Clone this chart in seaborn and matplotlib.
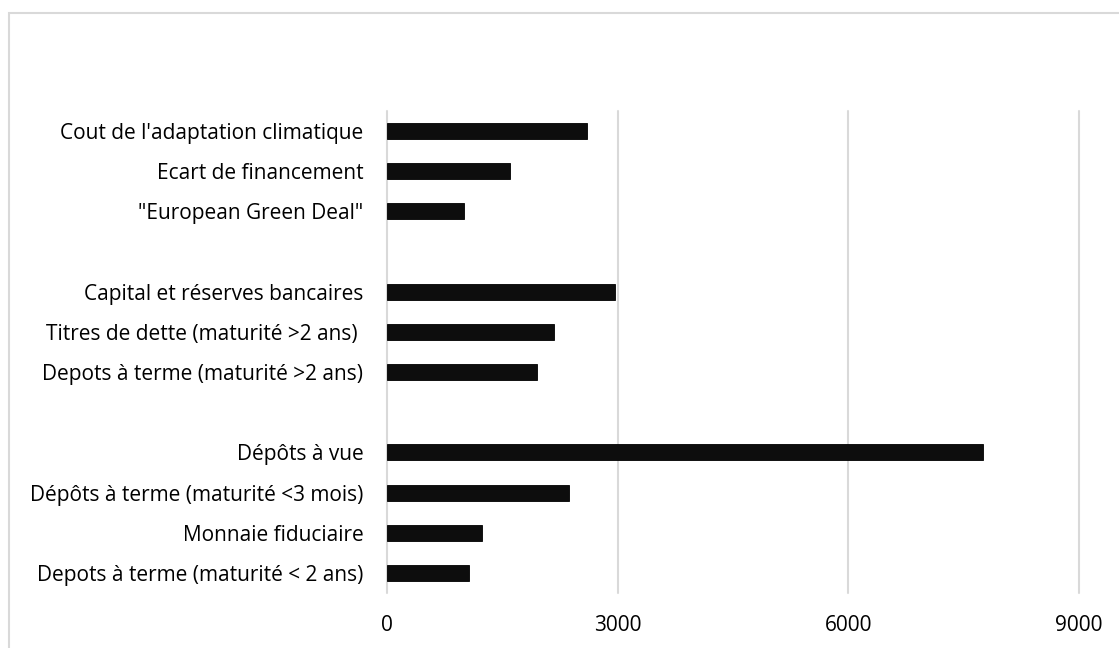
import matplotlib
matplotlib.use("Agg")
import matplotlib.pyplot as plt
from matplotlib.patches import Rectangle
import pandas as pd
import seaborn as sns

# Categories grouped in three blocks (top to bottom), separated by gaps
climat = ["Cout de l'adaptation climatique", "Ecart de financement", '"European Green Deal"']
climat_vals = [2600, 1600, 1000]

long_terme = ["Capital et réserves bancaires", "Titres de dette (maturité >2 ans) ",
              "Depots à terme (maturité >2 ans)"]
long_terme_vals = [2960, 2170, 1950]

court_terme = ["Dépôts à vue", "Dépôts à terme (maturité <3 mois)", "Monnaie fiduciaire",
               "Depots à terme (maturité < 2 ans)"]
court_terme_vals = [7750, 2370, 1230, 1070]

x_ticks = [0, 3000, 6000, 9000]

gap_a, gap_b = "_gap_a", "_gap_b"
order = climat + [gap_a] + long_terme + [gap_b] + court_terme

df = pd.DataFrame({
    "categorie": climat + long_terme + court_terme,
    "valeur": climat_vals + long_terme_vals + court_terme_vals,
})

sns.set_theme(style="white")
plt.rcParams["font.family"] = ["Open Sans", "DejaVu Sans"]

W, H = 1119, 648
fig = plt.figure(figsize=(W / 100, H / 100), dpi=100)
ax = fig.add_axes([387 / W, 1 - 593 / H, (1079 - 387) / W, (593 - 111) / H])

sns.barplot(data=df, y="categorie", x="valeur", order=order, orient="h",
            color="#0d0d0d", width=0.4, edgecolor="#000000", linewidth=0.6,
            saturation=1, errorbar=None, ax=ax)

ax.set_xlim(0, 9000)
ax.set_xticks(x_ticks)
ax.set_xticklabels([str(t) for t in x_ticks])
ax.grid(axis="x", color="#d9d9d9", linewidth=1.5)
ax.set_axisbelow(True)
for gl in ax.get_xgridlines():
    gl.set_clip_on(False)
for s in ax.spines.values():
    s.set_visible(False)

ax.set_yticks(range(len(order)))
ax.set_yticklabels(["" if c.startswith("_gap") else c for c in order])
ax.tick_params(axis="y", length=0, pad=17, labelsize=15, labelcolor="#000000")
ax.tick_params(axis="x", length=0, pad=16, labelsize=15, labelcolor="#000000")
ax.set_xlabel("")
ax.set_ylabel("")

# light frame around the chart area
fig.patches.append(Rectangle((8.5 / W, -0.05), 1.2, 1 - 12.5 / H + 0.05,
                             transform=fig.transFigure, fill=False,
                             edgecolor="#d9d9d9", linewidth=1.5))

fig.savefig("out.png", dpi=100, facecolor="white")
